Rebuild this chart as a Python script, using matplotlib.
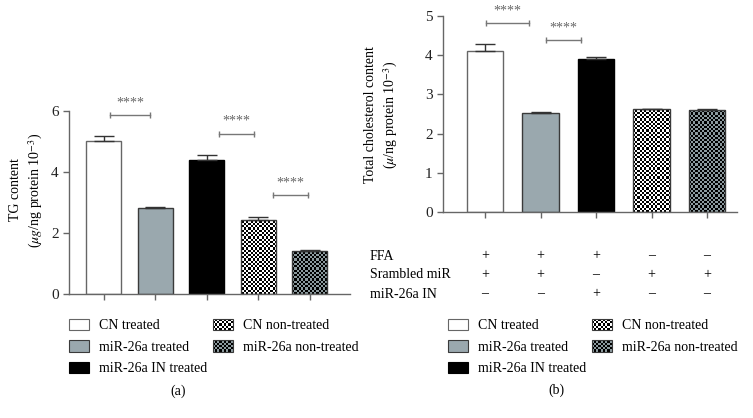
import matplotlib
matplotlib.use('Agg')
import matplotlib.pyplot as plt
import numpy as np
from matplotlib.patches import Rectangle, Patch
from matplotlib.legend_handler import HandlerBase
from matplotlib.colors import ListedColormap
from matplotlib.transforms import blended_transform_factory

plt.rcParams['font.family'] = ['Liberation Serif', 'DejaVu Serif']
plt.rcParams['mathtext.fontset'] = 'stix'

# ---------------- data ----------------
groups = ['CN treated', 'miR-26a treated', 'miR-26a IN treated',
          'CN non-treated', 'miR-26a non-treated']
tg_mean = [5.03, 2.82, 4.40, 2.41, 1.40]
tg_err = [0.14, 0.04, 0.15, 0.10, 0.05]
chol_mean = [4.11, 2.53, 3.91, 2.62, 2.59]
chol_err = [0.17, 0.03, 0.03, 0.01, 0.03]
row_labels = ['FFA', 'Srambled miR', 'miR-26a IN']
row_ffa = ['+', '+', '+', '–', '–']
row_scr = ['+', '+', '–', '+', '+']
row_inh = ['–', '–', '+', '–', '–']
tg_ticks = [0, 2, 4, 6]
chol_ticks = [0, 1, 2, 3, 4, 5]
sig_label = '****'

# ---------------- style ----------------
GRAY_FACE = '#9aa8ae'
CHECK5 = '#8c9a9e'
EDGE = '#3a3a3a'
AXC = '#666666'
FS = 10

fig = plt.figure(figsize=(7.53, 4.18), dpi=100)
W, H = 753, 418

def px_axes(l, r, top, bot):
    return fig.add_axes([l / W, (H - bot) / H, (r - l) / W, (bot - top) / H])

ax1 = px_axes(69, 350, 111, 294)
ax2 = px_axes(443, 737, 15.7, 212.3)

ax1.set_xlim(-0.68, 4.78); ax1.set_ylim(0, 6)
ax2.set_xlim(-0.757, 4.54); ax2.set_ylim(0, 5)

faces = ['white', GRAY_FACE, 'black', 'none', 'none']
edges = ['#666666', EDGE, 'black', EDGE, EDGE]
checkers = {3: ('black', 'white'), 4: ('black', CHECK5)}

def checker_fill(ax, bar, c1, c2, cell=2.2):
    bb = ax.get_window_extent()
    nx, ny = int(bb.width / cell), int(bb.height / cell)
    arr = np.indices((ny, nx)).sum(0) % 2
    xl, yl = ax.get_xlim(), ax.get_ylim()
    im = ax.imshow(arr, cmap=ListedColormap([c1, c2]), extent=(xl[0], xl[1], yl[0], yl[1]),
                   origin='lower', aspect='auto', interpolation='nearest', zorder=1.5)
    im.set_clip_path(bar)
    ax.set_xlim(xl); ax.set_ylim(yl)

def draw_panel(ax, means, errs, width, ticks):
    x = np.arange(len(means))
    bars = ax.bar(x, means, width=width, color=faces, edgecolor=edges, linewidth=1.0, zorder=2)
    for i, (c1, c2) in checkers.items():
        checker_fill(ax, bars[i], c1, c2)
    ax.errorbar(x, means, yerr=[np.zeros(len(errs)), errs], fmt='none', ecolor='#333333',
                elinewidth=1.0, capsize=7, capthick=1.0, zorder=3)
    for s in ['top', 'right']:
        ax.spines[s].set_visible(False)
    for s in ['left', 'bottom']:
        ax.spines[s].set_color(AXC); ax.spines[s].set_linewidth(1.0)
    ax.set_xticks(x); ax.set_xticklabels([])
    ax.set_yticks(ticks)
    ax.tick_params(axis='both', colors=AXC, length=4, width=1.0, labelsize=11, labelcolor='#222222')

def bracket(ax, x0, x1, y):
    ax.plot([x0, x1], [y, y], color='#777777', lw=1.0, marker='|', markersize=5,
            markeredgewidth=1.0, clip_on=False, zorder=4)
    ax.annotate(sig_label, ((x0 + x1) / 2, y), xytext=(0, 4), textcoords='offset points',
                ha='center', va='bottom', fontsize=10, color='#666666', annotation_clip=False)

draw_panel(ax1, tg_mean, tg_err, 0.68, tg_ticks)
draw_panel(ax2, chol_mean, chol_err, 0.66, chol_ticks)

bracket(ax1, 0.12, 0.89, 5.87)
bracket(ax1, 2.23, 2.91, 5.26)
bracket(ax1, 3.29, 3.96, 3.25)
bracket(ax2, 0.02, 0.79, 4.82)
bracket(ax2, 1.09, 1.73, 4.38)

# y labels
fig.text(27 / W, 1 - 190 / H, 'TG content\n($\\mu g$/ng protein 10$^{-3}$)', rotation=90,
         ha='center', va='center', multialignment='center', fontsize=FS, linespacing=1.3)
fig.text(382 / W, 1 - 115 / H, 'Total cholesterol content\n($\\mu$/ng protein 10$^{-3}$)',
         rotation=90, ha='center', va='center', multialignment='center', fontsize=FS,
         linespacing=1.3)

# treatment table
btr = blended_transform_factory(ax2.transData, fig.transFigure)
for lab, row, ypx in zip(row_labels, [row_ffa, row_scr, row_inh], [256, 275, 294]):
    fig.text(370 / W, 1 - ypx / H, lab, ha='left', va='center', fontsize=FS)
    for i, s in enumerate(row):
        ax2.text(i, 1 - ypx / H, s, transform=btr, ha='center', va='center', fontsize=FS)

# legends
class CheckerHandler(HandlerBase):
    def __init__(self, c1, c2):
        super().__init__()
        self.c1, self.c2 = c1, c2

    def create_artists(self, legend, orig_handle, xdescent, ydescent, width, height,
                       fontsize, trans):
        arts = []
        nx, ny = 9, 5
        cw, ch = width / nx, height / ny
        for i in range(nx):
            for j in range(ny):
                col = self.c1 if (i + j) % 2 else self.c2
                arts.append(Rectangle((-xdescent + i * cw, -ydescent + j * ch), cw, ch,
                                      facecolor=col, edgecolor='none', transform=trans))
        arts.append(Rectangle((-xdescent, -ydescent), width, height, facecolor='none',
                              edgecolor=EDGE, lw=0.8, transform=trans))
        return arts

def make_legend(x_px, y_px):
    handles = [Patch(facecolor='white', edgecolor='#666666', lw=0.8),
               Patch(facecolor=GRAY_FACE, edgecolor=EDGE, lw=0.8),
               Patch(facecolor='black', edgecolor='black', lw=0.8),
               Patch(facecolor='gray'), Patch(facecolor='gray')]
    hmap = {handles[3]: CheckerHandler('black', 'white'),
            handles[4]: CheckerHandler('black', CHECK5)}
    fig.legend(handles, groups, ncol=2, loc='upper left',
               bbox_to_anchor=(x_px / W, 1 - y_px / H), frameon=False, fontsize=FS,
               handlelength=1.44, handleheight=0.86, handletextpad=0.72,
               columnspacing=0.4, labelspacing=0.58, borderpad=0, borderaxespad=0,
               handler_map=hmap)

make_legend(69, 319)
make_legend(448, 319)

fig.text(178 / W, 1 - 391 / H, '(a)', ha='center', va='center', fontsize=FS)
fig.text(556 / W, 1 - 390 / H, '(b)', ha='center', va='center', fontsize=FS)

fig.savefig('out.png', dpi=100)
